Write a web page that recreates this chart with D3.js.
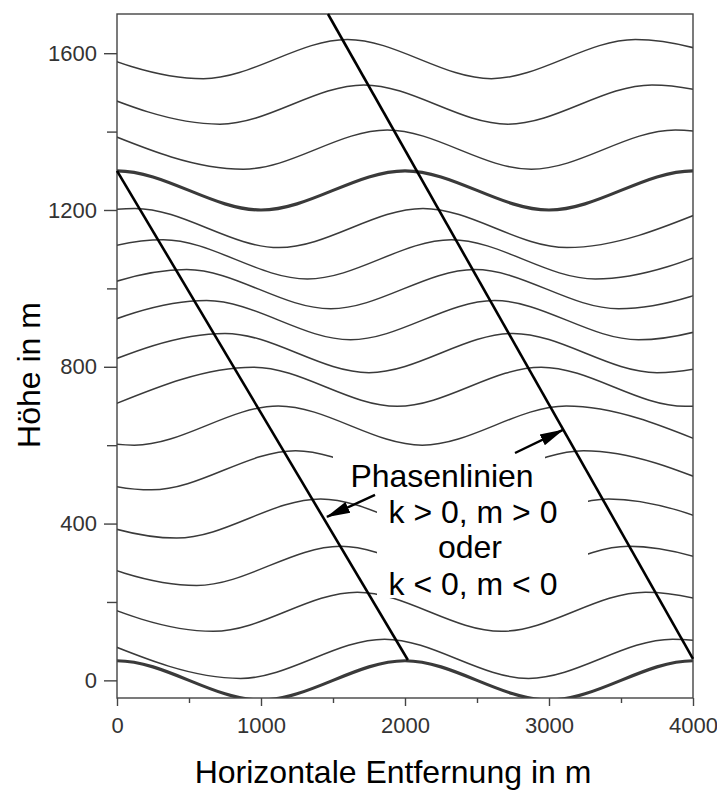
<!DOCTYPE html>
<html>
<head>
<meta charset="utf-8">
<script src="https://cdn.jsdelivr.net/npm/d3@7"></script>
<style>
  body { margin: 0; background: #fff; }
  svg { display: block; font-family: 'Liberation Sans', Arial, sans-serif; }
</style>
</head>
<body>
<svg id="chart" width="717" height="792"></svg>
<script>
// x positions (m) of wave crests / troughs for each streamline
const crestX = [
  [0, 2000, 4000],
  [-142, 1858, 3858],
  [-331, 1669, 3669],
  [-447, 1553, 3553],
  [-586, 1414, 3414],
  [-760, 1240, 3240],
  [-880, 1120, 3120],
  [946, 2946, 4946],
  [750, 2750, 4750],
  [622, 2622, 4622],
  [484, 2484, 4484],
  [322, 2322, 4322],
  [125, 2125, 4125],
  [0, 2000, 4000],
  [-123, 1877, 3877],
  [-285, 1715, 3715],
  [-400, 1600, 3600]
]
const troughX = [
  [-1000, 1000, 3000, 5000],
  [858, 2858, 4858],
  [669, 2669, 4669],
  [553, 2553, 4553],
  [414, 2414, 4414],
  [240, 2240, 4240],
  [120, 2120, 4120],
  [-54, 1946, 3946],
  [-250, 1750, 3750],
  [-378, 1622, 3622],
  [-516, 1484, 3484],
  [-678, 1322, 3322],
  [-875, 1125, 3125],
  [-1000, 1000, 3000, 5000],
  [877, 2877, 4877],
  [715, 2715, 4715],
  [600, 2600, 4600]
]
// heights (m) of crests and troughs
const crestZ = [50, 105, 225, 342, 463, 586, 700, 799, 885, 969, 1048, 1124, 1204, 1300, 1404, 1519, 1635]
const troughZ = [-50, 5, 125, 242, 363, 486, 600, 699, 785, 869, 948, 1024, 1104, 1200, 1304, 1419, 1535]
const thickLines = [0, 13]

// phase lines and annotation arrows [x, z]
const phaseLines = [
  [[0, 1300], [2020, 52]],
  [[1465, 1700], [4000, 55]]
]
const arrows = [
  [[1792, 473], [1458, 417]],
  [[2764, 580], [3097, 639]]
]

const xTicks = [0, 500, 1000, 1500, 2000, 2500, 3000, 3500, 4000]
const xLabels = [0, 1000, 2000, 3000, 4000]
const yTicks = [0, 200, 400, 600, 800, 1000, 1200, 1400, 1600]
const yLabels = [0, 400, 800, 1200, 1600]

const noteLines = ['Phasenlinien', 'k > 0, m > 0', 'oder', 'k < 0, m < 0']

const plotL = 117, plotR = 693, plotT = 14, plotB = 698

const x = d3.scaleLinear().domain([0, 4000]).range([plotL, plotR])
const y = d3.scaleLinear().domain([-45, 1700]).range([plotB, plotT])

const svg = d3.select('#chart')
const defs = svg.append('defs')

defs.append('clipPath')
  .attr('id', 'plot-clip')
  .append('rect')
  .attr('x', plotL)
  .attr('y', plotT)
  .attr('width', plotR - plotL)
  .attr('height', plotB - plotT)

defs.append('marker')
  .attr('id', 'head')
  .attr('markerUnits', 'userSpaceOnUse')
  .attr('viewBox', '0 -7 24 14')
  .attr('refX', 23)
  .attr('refY', 0)
  .attr('markerWidth', 24)
  .attr('markerHeight', 14)
  .attr('orient', 'auto')
  .append('path')
  .attr('d', 'M0,-6L24,0L0,6Z')
  .attr('fill', '#000')

// streamlines
const line = d3.line()
  .x(d => x(d[0]))
  .y(d => y(d[1]))
  .curve(d3.curveMonotoneX)

const waves = crestX.map((cx, i) => {
  const pts = cx.map(v => [v, crestZ[i]]).concat(troughX[i].map(v => [v, troughZ[i]]))
  return pts.sort((a, b) => a[0] - b[0])
})

svg.append('g')
  .attr('clip-path', 'url(#plot-clip)')
  .selectAll('path')
  .data(waves)
  .enter()
  .append('path')
  .attr('d', line)
  .attr('fill', 'none')
  .attr('stroke', '#3a3a3a')
  .attr('stroke-width', (d, i) => thickLines.includes(i) ? 3.2 : 1.5)

// frame
svg.append('rect')
  .attr('x', plotL)
  .attr('y', plotT)
  .attr('width', plotR - plotL)
  .attr('height', plotB - plotT)
  .attr('fill', 'none')
  .attr('stroke', '#444')
  .attr('stroke-width', 1.4)

// axes
const xAxis = svg.append('g')
  .attr('transform', `translate(0,${plotB})`)
  .call(d3.axisBottom(x).tickValues(xTicks).tickSizeOuter(0)
    .tickFormat(d => xLabels.includes(d) ? d : ''))
xAxis.select('.domain').remove()
xAxis.selectAll('.tick line')
  .attr('y2', d => xLabels.includes(d) ? 8 : 5)
  .attr('stroke', '#444')
  .attr('stroke-width', 1.4)
xAxis.selectAll('.tick text')
  .attr('y', 19)
  .attr('font-size', 22)
  .attr('font-family', "'Liberation Sans', Arial, sans-serif")
  .attr('fill', '#333')

const yAxis = svg.append('g')
  .attr('transform', `translate(${plotL},0)`)
  .call(d3.axisLeft(y).tickValues(yTicks).tickSizeOuter(0)
    .tickFormat(d => yLabels.includes(d) ? d : ''))
yAxis.select('.domain').remove()
yAxis.selectAll('.tick line')
  .attr('x2', d => yLabels.includes(d) ? -13 : -10)
  .attr('stroke', '#444')
  .attr('stroke-width', 1.4)
yAxis.selectAll('.tick text')
  .attr('x', -20)
  .attr('font-size', 22)
  .attr('font-family', "'Liberation Sans', Arial, sans-serif")
  .attr('fill', '#333')

// white boxes behind the note
svg.append('rect').attr('x', 333).attr('y', 448).attr('width', 212).attr('height', 50).attr('fill', '#fff')
svg.append('rect').attr('x', 377).attr('y', 497).attr('width', 211).attr('height', 101).attr('fill', '#fff')

// phase lines
svg.append('g')
  .selectAll('line')
  .data(phaseLines)
  .enter()
  .append('line')
  .attr('x1', d => x(d[0][0]))
  .attr('y1', d => y(d[0][1]))
  .attr('x2', d => x(d[1][0]))
  .attr('y2', d => y(d[1][1]))
  .attr('stroke', '#000')
  .attr('stroke-width', 2.6)

svg.append('g')
  .selectAll('line')
  .data(arrows)
  .enter()
  .append('line')
  .attr('x1', d => x(d[0][0]))
  .attr('y1', d => y(d[0][1]))
  .attr('x2', d => x(d[1][0]))
  .attr('y2', d => y(d[1][1]))
  .attr('stroke', '#000')
  .attr('stroke-width', 2.4)
  .attr('marker-end', 'url(#head)')

// note text
const noteX = [442, 473, 470, 473]
const noteY = [487, 523, 558, 595]
svg.append('g')
  .selectAll('text')
  .data(noteLines)
  .enter()
  .append('text')
  .attr('x', (d, i) => noteX[i])
  .attr('y', (d, i) => noteY[i])
  .attr('text-anchor', 'middle')
  .attr('font-size', 32)
  .attr('fill', '#000')
  .text(d => d)

// axis titles
svg.append('text')
  .attr('x', 393)
  .attr('y', 783)
  .attr('text-anchor', 'middle')
  .attr('font-size', 32)
  .text('Horizontale Entfernung in m')

svg.append('text')
  .attr('transform', 'translate(40,375) rotate(-90)')
  .attr('text-anchor', 'middle')
  .attr('font-size', 32)
  .text('Höhe in m')
</script>
</body>
</html>
